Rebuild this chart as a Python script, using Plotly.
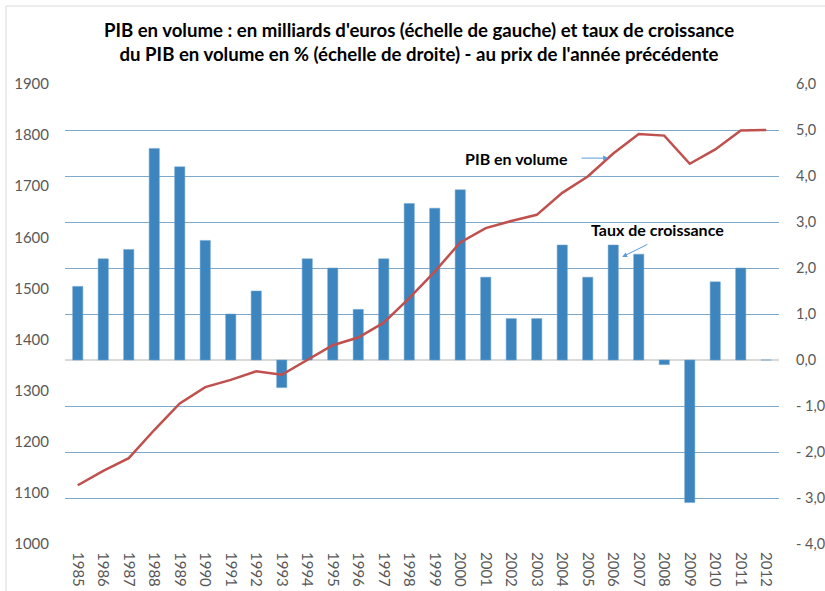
import plotly.graph_objects as go

years = [str(y) for y in range(1985, 2013)]
pib_volume = [1115, 1143, 1168, 1223, 1275, 1307, 1321, 1338, 1331, 1360,
              1389, 1404, 1433, 1481, 1533, 1590, 1618, 1632, 1644, 1687,
              1719, 1764, 1802, 1799, 1744, 1772, 1809, 1810]
taux_croissance = [1.6, 2.2, 2.4, 4.6, 4.2, 2.6, 1.0, 1.5, -0.6, 2.2,
                   2.0, 1.1, 2.2, 3.4, 3.3, 3.7, 1.8, 0.9, 0.9, 2.5,
                   1.8, 2.5, 2.3, -0.1, -3.1, 1.7, 2.0, 0.0]

left_ticks = [1000, 1100, 1200, 1300, 1400, 1500, 1600, 1700, 1800, 1900]
right_ticks = [-4, -3, -2, -1, 0, 1, 2, 3, 4, 5, 6]
right_labels = ["- 4,0", "- 3,0", "- 2,0", "- 1,0", "0,0", "1,0", "2,0",
                "3,0", "4,0", "5,0", "6,0"]

title_text = ("PIB en volume : en milliards d'euros (échelle de gauche) et taux de croissance"
              "<br>du PIB en volume en % (échelle de droite) - au prix de l'année précédente")

BAR = "#3D85BE"
LINE = "#C0504D"
GRID = "#7FA9CB"
TICK = "#595959"
FONT = "Lato"

fig = go.Figure()
fig.add_trace(go.Bar(x=years, y=taux_croissance, yaxis="y", marker=dict(color=BAR,
                     line=dict(color="#6FA3CF", width=0.5)), name="Taux de croissance"))
fig.add_trace(go.Scatter(x=years, y=pib_volume, yaxis="y2", mode="lines",
                         line=dict(color=LINE, width=2.5), name="PIB en volume"))

L, R, T, B = 65, 46, 84, 47
W, H = 825, 591
pw, ph = W - L - R, H - T - B

fig.update_layout(
    width=W, height=H,
    margin=dict(l=L, r=R, t=T, b=B, pad=0, autoexpand=False),
    paper_bgcolor="white", plot_bgcolor="white",
    showlegend=False,
    bargap=0.6,
    font=dict(family=FONT, color=TICK, size=15),
    title=dict(text=title_text, x=(419 - 0) / W, xanchor="center", y=1 - 37 / H, yanchor="top",
               font=dict(family=FONT, size=18.6, color="black", weight="bold")),
    xaxis=dict(type="category", showgrid=False, showline=False, ticks="", automargin=False,
               tickangle=90, tickfont=dict(size=15, color=TICK), ticklabelstandoff=7),
    yaxis=dict(side="right", range=[-4, 6], tickvals=right_ticks, ticktext=right_labels,
               showgrid=True, gridcolor=GRID, gridwidth=1.3, automargin=False,
               zeroline=True, zerolinecolor="#D9D9D9", zerolinewidth=1.5,
               showline=False, ticks="", ticklabelstandoff=16,
               tickfont=dict(size=14.5, color=TICK)),
    yaxis2=dict(side="left", overlaying="y", range=[1000, 1900], tickvals=left_ticks,
                showgrid=False, zeroline=False, showline=False, ticks="", automargin=False,
                ticklabelstandoff=15, tickfont=dict(size=15, color=TICK)),
)

# chart border (outer frame)
bx = (6 - L) / pw
by = 1 + (T - 6) / ph
fig.add_shape(type="line", xref="paper", yref="paper", x0=bx, x1=(W - L) / pw + 0.01,
              y0=by, y1=by, line=dict(color="#D9D9D9", width=1))
fig.add_shape(type="line", xref="paper", yref="paper", x0=bx, x1=bx,
              y0=by, y1=-B / ph - 0.01, line=dict(color="#D9D9D9", width=1))

# annotations
fig.add_annotation(x=17.2, y=1755, xref="x", yref="y2", text="<b>PIB en volume</b>",
                   showarrow=False, font=dict(family=FONT, size=16, color="black"))
fig.add_annotation(x=20.8, y=1755, xref="x", yref="y2", ax=19.7, ay=1755,
                   axref="x", ayref="y2", text="", showarrow=True,
                   arrowhead=2, arrowsize=1, arrowwidth=1, arrowcolor="#5B9BD5")
fig.add_annotation(x=22.75, y=2.83, xref="x", yref="y", text="<b>Taux de croissance</b>",
                   showarrow=False, font=dict(family=FONT, size=16, color="black"))
fig.add_annotation(x=21.35, y=2.24, xref="x", yref="y", ax=22.4, ay=2.53,
                   axref="x", ayref="y", text="", showarrow=True,
                   arrowhead=2, arrowsize=1, arrowwidth=1, arrowcolor="#5B9BD5")

fig.write_html("out.html", config={"displayModeBar": False},
               post_script="document.body.style.margin='0';")
